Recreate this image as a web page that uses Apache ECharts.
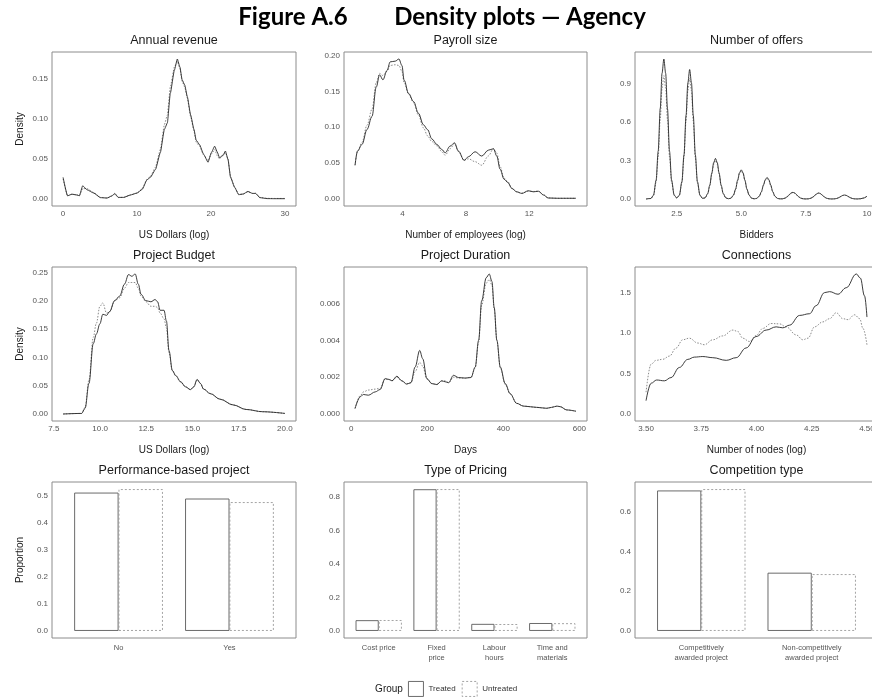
<!DOCTYPE html>
<html>
<head>
<meta charset="utf-8">
<script src="https://cdn.jsdelivr.net/npm/echarts@6/dist/echarts.min.js"></script>
<style>
  html, body { margin: 0; padding: 0; background: #fff; }
  #chart { width: 872px; height: 698px; }
</style>
</head>
<body>
<div id="chart"></div>
<script>
// ---- Annual revenue (US Dollars, log) ----
const revenueX = [0, 0.6, 1.2, 1.9, 2.2, 2.65, 3.25, 4.15, 5.05, 5.95, 6.6, 7.0, 7.45, 8.2, 9.1, 10.0, 10.7, 11.35, 11.8, 12.5, 13.15, 13.7, 14.1, 14.5, 15.05, 15.45, 15.8, 16.1, 16.45, 16.8, 17.25, 17.7, 18.0, 18.45, 19.0, 19.6, 20.05, 20.5, 20.85, 21.15, 21.65, 21.95, 22.3, 22.65, 23.2, 23.75, 24.35, 25.0, 25.6, 26.05, 26.6, 27.6, 28.5, 30];
const revenueTreated = [0.027, 0.004, 0.006, 0.005, 0.004, 0.0165, 0.0115, 0.0074, 0.0017, 0.0012, 0.004, 0.007, 0.002, 0.002, 0.005, 0.0074, 0.012, 0.024, 0.027, 0.037, 0.058, 0.087, 0.095, 0.132, 0.161, 0.175, 0.165, 0.149, 0.1425, 0.128, 0.105, 0.087, 0.0735, 0.068, 0.056, 0.046, 0.058, 0.066, 0.0587, 0.0517, 0.0545, 0.06, 0.0496, 0.027, 0.0145, 0.0054, 0.0062, 0.0095, 0.007, 0.007, 0.0017, 0.0005, 0.0004, 0.0004];
const revenueUntreated = [0.025, 0.004, 0.006, 0.005, 0.004, 0.013, 0.013, 0.008, 0.002, 0.0012, 0.0035, 0.006, 0.002, 0.002, 0.005, 0.0075, 0.013, 0.025, 0.028, 0.04, 0.062, 0.093, 0.105, 0.14, 0.165, 0.172, 0.163, 0.147, 0.14, 0.126, 0.103, 0.085, 0.071, 0.066, 0.055, 0.048, 0.056, 0.062, 0.054, 0.05, 0.056, 0.058, 0.05, 0.028, 0.015, 0.006, 0.006, 0.009, 0.007, 0.007, 0.002, 0.0008, 0.0007, 0.0007];
const revenueXTicks = [0, 10, 20, 30];
const revenueYTicks = [0, 0.05, 0.10, 0.15];

// ---- Payroll size (number of employees, log) ----
const payrollX = [1.0, 1.16, 1.44, 1.76, 2.07, 2.34, 2.55, 2.76, 3.02, 3.22, 3.54, 3.77, 3.96, 4.1, 4.38, 4.7, 5.0, 5.32, 5.58, 5.85, 6.17, 6.48, 6.69, 7.0, 7.28, 7.53, 7.89, 8.16, 8.58, 9.0, 9.42, 9.74, 9.95, 10.16, 10.41, 10.65, 10.9, 11.21, 11.53, 11.95, 12.26, 12.58, 12.9, 13.2, 13.8, 14.95];
const payrollTreated = [0.047, 0.067, 0.076, 0.097, 0.115, 0.156, 0.173, 0.166, 0.179, 0.191, 0.192, 0.195, 0.186, 0.1655, 0.147, 0.1356, 0.1195, 0.1034, 0.0966, 0.0837, 0.0759, 0.069, 0.0644, 0.0736, 0.0782, 0.0667, 0.0538, 0.0589, 0.0658, 0.0598, 0.068, 0.07, 0.0598, 0.0414, 0.0276, 0.023, 0.0147, 0.01, 0.0078, 0.0115, 0.01, 0.0108, 0.0055, 0.0014, 0.001, 0.001];
const payrollUntreated = [0.047, 0.066, 0.079, 0.103, 0.125, 0.162, 0.175, 0.172, 0.178, 0.186, 0.187, 0.186, 0.178, 0.162, 0.146, 0.134, 0.117, 0.099, 0.088, 0.08, 0.074, 0.066, 0.061, 0.07, 0.077, 0.066, 0.054, 0.056, 0.052, 0.047, 0.06, 0.07, 0.064, 0.045, 0.029, 0.024, 0.015, 0.01, 0.008, 0.011, 0.0105, 0.011, 0.006, 0.0015, 0.001, 0.001];
const payrollXTicks = [4, 8, 12];
const payrollYTicks = [0, 0.05, 0.10, 0.15, 0.20];

// ---- Number of offers (bidders) ----
const offersX = [
  1.31, 1.5,
  1.6, 1.7, 1.78, 1.86, 1.93, 2.0, 2.07, 2.14, 2.22, 2.3, 2.4, 2.5,
  2.6, 2.7, 2.78, 2.86, 2.93, 3.0, 3.07, 3.14, 3.22, 3.3, 3.4, 3.5,
  3.6, 3.7, 3.78, 3.86, 3.93, 4.0, 4.07, 4.14, 4.22, 4.3, 4.4, 4.5,
  4.6, 4.7, 4.78, 4.86, 4.93, 5.0, 5.07, 5.14, 5.22, 5.3, 5.4, 5.5,
  5.6, 5.7, 5.78, 5.86, 5.93, 6.0, 6.07, 6.14, 6.22, 6.3, 6.4, 6.5,
  6.6, 6.7, 6.78, 6.86, 6.93, 7.0, 7.07, 7.14, 7.22, 7.3, 7.4, 7.5,
  7.6, 7.7, 7.78, 7.86, 7.93, 8.0, 8.07, 8.14, 8.22, 8.3, 8.4, 8.5,
  8.6, 8.7, 8.78, 8.86, 8.93, 9.0, 9.07, 9.14, 9.22, 9.3, 9.4, 9.5,
  9.62, 9.75, 9.87
];
const offersTreated = [
  0, 0.004,
  0.031, 0.147, 0.372, 0.705, 0.978, 1.090, 0.978, 0.705, 0.372, 0.147, 0.031, 0.008,
  0.029, 0.136, 0.344, 0.652, 0.904, 1.008, 0.904, 0.652, 0.344, 0.136, 0.029, 0.005,
  0.009, 0.043, 0.108, 0.204, 0.283, 0.316, 0.283, 0.204, 0.108, 0.043, 0.009, 0.002,
  0.0065, 0.031, 0.077, 0.147, 0.204, 0.227, 0.204, 0.147, 0.077, 0.031, 0.0065, 0.0015,
  0.0048, 0.023, 0.057, 0.109, 0.151, 0.168, 0.151, 0.109, 0.057, 0.023, 0.0048, 0.0009,
  0.0015, 0.007, 0.018, 0.034, 0.047, 0.052, 0.047, 0.034, 0.018, 0.007, 0.0015, 0.0004,
  0.0013, 0.0063, 0.016, 0.030, 0.042, 0.047, 0.042, 0.030, 0.016, 0.0063, 0.0013, 0.0003,
  0.0009, 0.0042, 0.0106, 0.020, 0.028, 0.031, 0.028, 0.020, 0.0106, 0.0042, 0.0009, 0.0004,
  0.002, 0.008, 0.022
];
const offersUntreated = [
  0, 0.004,
  0.027, 0.130, 0.327, 0.621, 0.861, 0.960, 0.861, 0.621, 0.327, 0.130, 0.027, 0.0074,
  0.027, 0.127, 0.321, 0.608, 0.843, 0.940, 0.843, 0.608, 0.321, 0.127, 0.027, 0.0048,
  0.0086, 0.0405, 0.102, 0.194, 0.269, 0.300, 0.269, 0.194, 0.102, 0.0405, 0.0086, 0.002,
  0.0063, 0.030, 0.075, 0.142, 0.197, 0.220, 0.197, 0.142, 0.075, 0.030, 0.0063, 0.0015,
  0.0046, 0.0216, 0.055, 0.104, 0.144, 0.160, 0.144, 0.104, 0.055, 0.0216, 0.0046, 0.0008,
  0.0014, 0.0068, 0.017, 0.032, 0.045, 0.050, 0.045, 0.032, 0.017, 0.0068, 0.0014, 0.0004,
  0.0013, 0.0061, 0.015, 0.029, 0.040, 0.045, 0.040, 0.029, 0.015, 0.0061, 0.0013, 0.0003,
  0.0009, 0.004, 0.0102, 0.0194, 0.027, 0.030, 0.027, 0.0194, 0.0102, 0.004, 0.0009, 0.0004,
  0.002, 0.008, 0.021
];
const offersXTicks = [2.5, 5.0, 7.5, 10.0];
const offersYTicks = [0, 0.3, 0.6, 0.9];

// ---- Project budget (US Dollars, log) ----
const budgetX = [8.0, 9.0, 9.19, 9.4, 9.63, 9.8, 9.99, 10.15, 10.35, 10.52, 10.79, 11.06, 11.32, 11.54, 11.72, 11.9, 12.07, 12.22, 12.48, 12.75, 12.98, 13.11, 13.25, 13.46, 13.59, 13.73, 13.91, 14.09, 14.36, 14.62, 14.89, 15.07, 15.25, 15.43, 15.6, 15.96, 16.5, 17.2, 17.9, 18.8, 20.0];
const budgetTreated = [0, 0.001, 0.01, 0.054, 0.124, 0.141, 0.159, 0.176, 0.174, 0.181, 0.2, 0.208, 0.229, 0.246, 0.243, 0.247, 0.229, 0.211, 0.2, 0.198, 0.202, 0.198, 0.183, 0.183, 0.164, 0.112, 0.077, 0.068, 0.057, 0.048, 0.043, 0.048, 0.061, 0.054, 0.044, 0.036, 0.026, 0.016, 0.008, 0.004, 0.001];
const budgetUntreated = [0, 0.001, 0.012, 0.06, 0.135, 0.16, 0.19, 0.196, 0.178, 0.18, 0.2, 0.205, 0.222, 0.232, 0.232, 0.232, 0.222, 0.208, 0.198, 0.19, 0.19, 0.188, 0.178, 0.168, 0.152, 0.108, 0.076, 0.067, 0.056, 0.048, 0.043, 0.048, 0.06, 0.054, 0.044, 0.036, 0.026, 0.016, 0.008, 0.004, 0.001];
const budgetXTicks = [7.5, 10.0, 12.5, 15.0, 17.5, 20.0];
const budgetYTicks = [0, 0.05, 0.10, 0.15, 0.20, 0.25];

// ---- Project duration (days) ----
const durationX = [10, 24, 32, 45, 63, 76, 89, 101, 107, 120, 133, 146, 157, 168, 180, 188, 199, 212, 225, 238, 247, 256, 269, 282, 300, 315, 326, 335, 343, 355, 363, 370, 376, 383, 392, 405, 418, 435, 453, 488, 514, 527, 541, 549, 567, 591];
const durationTreated = [0.0003, 0.00094, 0.00106, 0.00102, 0.0012, 0.00133, 0.00192, 0.00187, 0.0018, 0.00205, 0.0018, 0.00162, 0.0017, 0.00255, 0.00345, 0.003, 0.00192, 0.00165, 0.0016, 0.0018, 0.00175, 0.0017, 0.0021, 0.00198, 0.00195, 0.00198, 0.00255, 0.004, 0.00614, 0.0074, 0.0076, 0.0072, 0.00578, 0.004, 0.00255, 0.00165, 0.0011, 0.00058, 0.00043, 0.00036, 0.00031, 0.00036, 0.00043, 0.0004, 0.00022, 0.00015];
const durationUntreated = [0.0003, 0.001, 0.0012, 0.0013, 0.00135, 0.0014, 0.0019, 0.00185, 0.0018, 0.002, 0.0018, 0.00165, 0.0017, 0.0023, 0.0028, 0.0026, 0.0019, 0.00165, 0.0016, 0.0018, 0.0018, 0.0017, 0.002, 0.00195, 0.00195, 0.002, 0.0025, 0.0039, 0.0059, 0.0071, 0.0073, 0.007, 0.0057, 0.004, 0.0025, 0.0016, 0.0011, 0.00058, 0.00043, 0.00036, 0.00031, 0.00036, 0.00042, 0.0004, 0.00022, 0.00015];
const durationXTicks = [0, 200, 400, 600];
const durationYTicks = [0, 0.002, 0.004, 0.006];

// ---- Connections (number of nodes, log) ----
const connTreatedX = [3.5, 3.523, 3.548, 3.583, 3.613, 3.651, 3.689, 3.719, 3.757, 3.802, 3.863, 3.908, 3.953, 3.998, 4.044, 4.089, 4.119, 4.15, 4.195, 4.24, 4.27, 4.308, 4.331, 4.369, 4.406, 4.452, 4.47, 4.489, 4.5];
const connTreated = [0.165, 0.38, 0.42, 0.41, 0.45, 0.575, 0.675, 0.703, 0.71, 0.696, 0.663, 0.696, 0.816, 0.957, 1.037, 1.077, 1.065, 1.098, 1.218, 1.239, 1.339, 1.5, 1.512, 1.48, 1.56, 1.73, 1.68, 1.46, 1.198];
const connUntreatedX = [3.5, 3.523, 3.545, 3.576, 3.606, 3.636, 3.666, 3.696, 3.734, 3.764, 3.802, 3.847, 3.893, 3.915, 3.938, 3.968, 3.998, 4.029, 4.066, 4.104, 4.134, 4.18, 4.21, 4.233, 4.263, 4.3, 4.331, 4.361, 4.391, 4.414, 4.444, 4.467, 4.482, 4.5];
const connUntreated = [0.27, 0.615, 0.663, 0.676, 0.716, 0.816, 0.917, 0.937, 0.877, 0.856, 0.917, 0.965, 1.037, 1.02, 0.937, 0.896, 0.969, 1.058, 1.118, 1.114, 1.077, 0.977, 0.917, 0.937, 1.077, 1.138, 1.178, 1.251, 1.178, 1.166, 1.226, 1.178, 1.058, 0.856];
const connXTicks = [3.5, 3.75, 4.0, 4.25, 4.5];
const connYTicks = [0, 0.5, 1.0, 1.5];

// ---- Proportions ----
const perfCategories = ['No', 'Yes'];
const perfTreated = [0.511, 0.489];
const perfUntreated = [0.524, 0.476];
const perfYTicks = [0, 0.1, 0.2, 0.3, 0.4, 0.5];

const pricingCategories = ['Cost price', 'Fixed\nprice', 'Labour\nhours', 'Time and\nmaterials'];
const pricingTreated = [0.064, 0.847, 0.042, 0.047];
const pricingUntreated = [0.065, 0.848, 0.041, 0.046];
const pricingYTicks = [0, 0.2, 0.4, 0.6, 0.8];

const compCategories = ['Competitively\nawarded project', 'Non-competitively\nawarded project'];
const compTreated = [0.707, 0.293];
const compUntreated = [0.714, 0.286];
const compYTicks = [0, 0.2, 0.4, 0.6];

// ---------------------------------------------------------------------------
const FONT = '"Liberation Sans", Arial, Helvetica, sans-serif';
const TITLE_FONT = 'Lato, "DejaVu Sans", sans-serif';
const TICK_COLOR = '#555';
const TEXT_COLOR = '#1a1a1a';
const FRAME_COLOR = '#8c8c8c';
const TREATED_COLOR = '#262626';
const UNTREATED_COLOR = '#7d7d7d';

// panel boxes
const colLeft = [52, 344, 635];
const colWidth = [244, 243, 243];
const rowTop = [52, 267, 482];
const rowHeight = [154, 154, 156];

const pair = (xs, ys) => xs.map((x, i) => [x, ys[i]]);
const expand = (lo, hi) => { const d = (hi - lo) * 0.05; return [lo - d, hi + d]; };

const densityPanels = [
  { title: 'Annual revenue', xName: 'US Dollars (log)', yName: 'Density',
    t: pair(revenueX, revenueTreated), u: pair(revenueX, revenueUntreated),
    xTicks: revenueXTicks, yTicks: revenueYTicks, xd: 0, yd: 2, smooth: 0.15 },
  { title: 'Payroll size', xName: 'Number of employees (log)', yName: '',
    t: pair(payrollX, payrollTreated), u: pair(payrollX, payrollUntreated),
    xTicks: payrollXTicks, yTicks: payrollYTicks, xd: 0, yd: 2, smooth: 0.35 },
  { title: 'Number of offers', xName: 'Bidders', yName: '',
    t: pair(offersX, offersTreated), u: pair(offersX, offersUntreated),
    xTicks: offersXTicks, yTicks: offersYTicks, xd: 1, yd: 1, smooth: 0.3 },
  { title: 'Project Budget', xName: 'US Dollars (log)', yName: 'Density',
    t: pair(budgetX, budgetTreated), u: pair(budgetX, budgetUntreated),
    xTicks: budgetXTicks, yTicks: budgetYTicks, xd: 1, yd: 2, smooth: 0.35 },
  { title: 'Project Duration', xName: 'Days', yName: '',
    t: pair(durationX, durationTreated), u: pair(durationX, durationUntreated),
    xTicks: durationXTicks, yTicks: durationYTicks, xd: 0, yd: 3, smooth: 0.35 },
  { title: 'Connections', xName: 'Number of nodes (log)', yName: '',
    t: pair(connTreatedX, connTreated), u: pair(connUntreatedX, connUntreated),
    xTicks: connXTicks, yTicks: connYTicks, xd: 2, yd: 1, smooth: 0.4 }
];

const barPanels = [
  { title: 'Performance-based project', yName: 'Proportion', cats: perfCategories,
    t: perfTreated, u: perfUntreated, yTicks: perfYTicks, yd: 1 },
  { title: 'Type of Pricing', yName: '', cats: pricingCategories,
    t: pricingTreated, u: pricingUntreated, yTicks: pricingYTicks, yd: 1 },
  { title: 'Competition type', yName: '', cats: compCategories,
    t: compTreated, u: compUntreated, yTicks: compYTicks, yd: 1 }
];

const grids = [], xAxes = [], yAxes = [], series = [], graphics = [];

const tickLabel = (ticks, digits, margin) => ({
  customValues: ticks,
  formatter: v => Number(v).toFixed(digits),
  color: TICK_COLOR, fontSize: 8, fontFamily: FONT, margin: margin
});
const hidden = { axisLine: { show: false }, axisTick: { show: false }, splitLine: { show: false } };
const axisNameStyle = { fontSize: 10, color: TEXT_COLOR, fontFamily: FONT };

function makeGrid(left, top, width, height, framed) {
  const g = { left: left, top: top, width: width, height: height, outerBoundsMode: 'none', containLabel: false };
  if (framed) Object.assign(g, { show: true, borderColor: FRAME_COLOR, borderWidth: 1, backgroundColor: 'transparent' });
  return g;
}

function panelTitle(text, col, row) {
  graphics.push({
    type: 'text', x: colLeft[col] + colWidth[col] / 2, y: rowTop[row] - 11, silent: true,
    style: { text: text, fill: TEXT_COLOR, fontSize: 12.5, fontFamily: FONT, align: 'center', verticalAlign: 'middle' }
  });
}

// bar panels first so the legend picks up the box style
barPanels.forEach((p, k) => {
  const col = k, row = 2;
  const n = p.cats.length;
  const step = colWidth[col] / (n + 0.2);
  const inset = step * 0.1;
  const ymax = Math.max(...p.t, ...p.u);
  const [ylo, yhi] = expand(0, ymax);

  // outer frame
  const frameIdx = grids.length;
  grids.push(makeGrid(colLeft[col], rowTop[row], colWidth[col], rowHeight[row], true));
  xAxes.push({ type: 'value', gridIndex: frameIdx, show: false, min: 0, max: 1 });
  yAxes.push({ type: 'value', gridIndex: frameIdx, show: false, min: 0, max: 1 });

  // bar area, inset by the discrete padding
  const gi = grids.length;
  grids.push(makeGrid(colLeft[col] + inset, rowTop[row], step * n, rowHeight[row], false));
  xAxes.push(Object.assign({ type: 'category', gridIndex: gi, data: p.cats,
    axisLabel: { interval: 0, color: TICK_COLOR, fontSize: 7.5, lineHeight: 10, fontFamily: FONT, margin: 5 } }, hidden));
  yAxes.push(Object.assign({ type: 'value', gridIndex: gi, min: ylo, max: yhi, offset: inset,
    name: p.yName, nameLocation: 'middle', nameGap: 27, nameTextStyle: axisNameStyle,
    axisLabel: tickLabel(p.yTicks, p.yd, 4) }, hidden));

  series.push({ type: 'bar', name: 'Treated', xAxisIndex: gi, yAxisIndex: gi, data: p.t,
    barWidth: '40%', barGap: '0%', silent: true,
    itemStyle: { color: '#ffffff', borderColor: '#5a5a5a', borderWidth: 0.9 } });
  series.push({ type: 'bar', name: 'Untreated', xAxisIndex: gi, yAxisIndex: gi, data: p.u,
    barWidth: '40%', barGap: '0%', silent: true,
    itemStyle: { color: 'rgba(255,255,255,0)', borderColor: '#9a9a9a', borderWidth: 0.9, borderType: [2, 2] } });
  panelTitle(p.title, col, row);
});

densityPanels.forEach((p, i) => {
  const col = i % 3, row = Math.floor(i / 3);
  const xs = p.t.concat(p.u).map(d => d[0]);
  const ys = p.t.concat(p.u).map(d => d[1]);
  const [xlo, xhi] = expand(Math.min(...xs), Math.max(...xs));
  const [ylo, yhi] = expand(0, Math.max(...ys));
  const gi = grids.length;
  grids.push(makeGrid(colLeft[col], rowTop[row], colWidth[col], rowHeight[row], true));
  xAxes.push(Object.assign({ type: 'value', gridIndex: gi, min: xlo, max: xhi,
    name: p.xName, nameLocation: 'middle', nameGap: 24, nameTextStyle: axisNameStyle,
    axisLabel: tickLabel(p.xTicks, p.xd, 4) }, hidden));
  yAxes.push(Object.assign({ type: 'value', gridIndex: gi, min: ylo, max: yhi,
    name: p.yName, nameLocation: 'middle', nameGap: 27, nameTextStyle: axisNameStyle,
    axisLabel: tickLabel(p.yTicks, p.yd, 4) }, hidden));
  series.push({ type: 'line', name: 'Untreated', xAxisIndex: gi, yAxisIndex: gi, data: p.u,
    symbol: 'none', smooth: p.smooth, smoothMonotone: 'x', silent: true, z: 2,
    lineStyle: { color: UNTREATED_COLOR, width: 0.9, type: [1.5, 1.5] } });
  series.push({ type: 'line', name: 'Treated', xAxisIndex: gi, yAxisIndex: gi, data: p.t,
    symbol: 'none', smooth: p.smooth, smoothMonotone: 'x', silent: true, z: 3,
    lineStyle: { color: TREATED_COLOR, width: 0.9, type: 'solid' } });
  panelTitle(p.title, col, row);
});

// figure heading
graphics.push({ type: 'text', x: 293, y: 17, silent: true,
  style: { text: 'Figure A.6', fill: '#000', fontSize: 24, fontWeight: 'bold', fontFamily: TITLE_FONT, align: 'center', verticalAlign: 'middle' } });
graphics.push({ type: 'text', x: 520, y: 17, silent: true,
  style: { text: 'Density plots \u2014 Agency', fill: '#000', fontSize: 24, fontWeight: 'bold', fontFamily: TITLE_FONT, align: 'center', verticalAlign: 'middle' } });
// legend title
graphics.push({ type: 'text', x: 389, y: 689, silent: true,
  style: { text: 'Group', fill: TEXT_COLOR, fontSize: 10, fontFamily: FONT, align: 'center', verticalAlign: 'middle' } });

const chart = echarts.init(document.getElementById('chart'), null, { renderer: 'canvas' });
chart.setOption({
  animation: false,
  backgroundColor: '#ffffff',
  textStyle: { fontFamily: FONT },
  grid: grids,
  xAxis: xAxes,
  yAxis: yAxes,
  series: series,
  graphic: graphics,
  legend: {
    left: 408, top: 681, padding: 0, itemWidth: 15, itemHeight: 15, itemGap: 6,
    selectedMode: false,
    textStyle: { fontSize: 8, color: '#333', fontFamily: FONT },
    data: [
      { name: 'Treated', icon: 'rect', itemStyle: { color: '#ffffff', borderColor: '#5a5a5a', borderWidth: 0.9, borderType: 'solid' } },
      { name: 'Untreated', icon: 'rect', itemStyle: { color: '#ffffff', borderColor: '#9a9a9a', borderWidth: 0.9, borderType: [2, 2] } }
    ]
  }
});
</script>
</body>
</html>
